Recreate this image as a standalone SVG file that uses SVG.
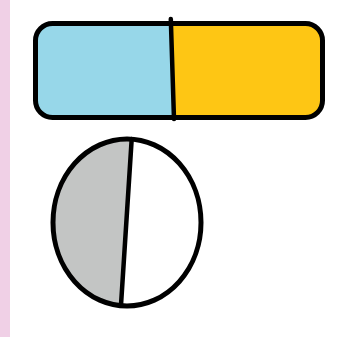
<svg xmlns="http://www.w3.org/2000/svg" width="339" height="337" viewBox="0 0 339 337">
<style>
.o{stroke:#000;stroke-width:5;fill:none;stroke-linejoin:round}
.d{stroke:#000;stroke-width:4.5;fill:none;stroke-linecap:round}
</style>
<defs>
<clipPath id="rc"><rect x="35.5" y="23.5" width="287" height="94" rx="17"/></clipPath>
<clipPath id="ec"><ellipse cx="127" cy="222.5" rx="74" ry="83.5"/></clipPath>
</defs>
<rect x="0" y="0" width="339" height="337" fill="#fff"/>
<rect x="0" y="0" width="10" height="337" fill="#f0d0e6"/>
<g id="bar">
<g clip-path="url(#rc)">
<rect x="30" y="20" width="300" height="100" fill="#fec614"/>
<polygon points="30,20 170.8,20 174,120 30,120" fill="#97d7e9"/>
</g>
<rect class="o" x="35.5" y="23.5" width="287" height="94" rx="17"/>
<line class="d" x1="170.8" y1="19" x2="174" y2="119"/>
</g>
<g id="circle">
<g clip-path="url(#ec)">
<rect x="50" y="135" width="160" height="180" fill="#fff"/>
<polygon points="50,135 131.9,135 120.5,310 50,310" fill="#c3c5c4"/>
</g>
<ellipse class="o" cx="127" cy="222.5" rx="74" ry="83.5" stroke-width="4.5"/>
<line class="d" x1="131.7" y1="139" x2="121" y2="305"/>
</g>
</svg>
